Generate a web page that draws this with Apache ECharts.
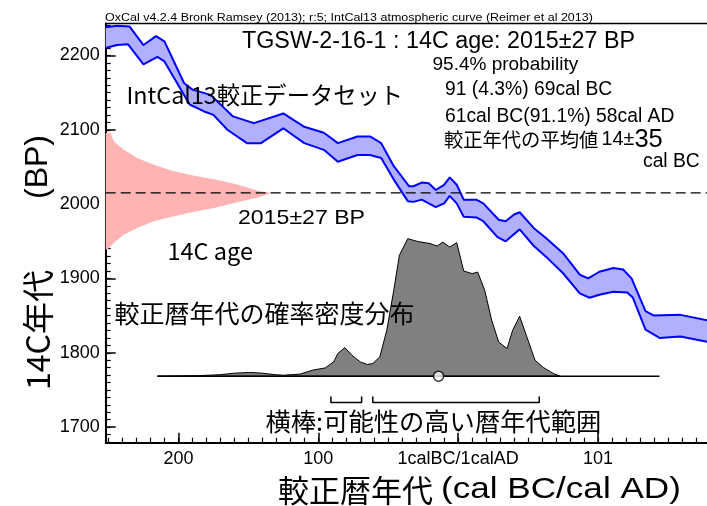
<!DOCTYPE html>
<html><head><meta charset="utf-8">
<script src="https://cdn.jsdelivr.net/npm/echarts@6/dist/echarts.min.js"></script>
<style>html,body{margin:0;padding:0;background:#fff}#c{width:707px;height:506px}</style>
</head><body><div id="c"></div>
<script>
// ---- data (years: negative = BC, 0 = 1calBC/1calAD) ----
const upperYears = [-252,-244,-235,-225,-216,-210,-196,-190,-177,-161,-146,-125,-110,-96,-86,-72,-63,-55,-46,-35,-32,-26,-21,-16,-10,-6,-1,4,13,18,29,34,40,44,54,63,75,87,93,101,111,118,124,134,140,159,180];
const upperBP    = [2238,2240,2239,2214,2226,2219,2163,2154,2147,2118,2109,2122,2104,2096,2082,2091,2091,2082,2051,2024,2024,2029,2028,2019,2026,2036,2026,2006,2006,2001,1979,1977,1986,1989,1968,1954,1934,1905,1900,1909,1914,1912,1900,1856,1850,1851,1843];
const lowerYears = [-252,-244,-236,-225,-215,-210,-192,-182,-175,-165,-151,-141,-125,-110,-96,-86,-72,-63,-55,-46,-36,-32,-26,-16,-10,-6,-1,4,13,18,28,34,44,54,63,75,87,94,101,111,121,125,134,144,159,180];
const lowerBP    = [2210,2214,2215,2188,2198,2192,2134,2125,2120,2100,2082,2082,2102,2082,2073,2057,2066,2066,2062,2033,2004,2003,2006,1996,2001,2011,2001,1983,1982,1977,1956,1950,1966,1944,1929,1907,1880,1874,1878,1882,1881,1874,1831,1820,1822,1814];

const measuredAge = 2015;
const pinkBP   = [2096,2084,2073,2062,2053,2045,2039,2033,2026,2018,2015,2009,2003,1995,1989,1983,1977,1968,1959,1948,1939];
const pinkProb = [0.03,0.05,0.11,0.19,0.29,0.40,0.52,0.66,0.80,0.92,1.00,0.92,0.80,0.66,0.52,0.40,0.29,0.19,0.11,0.05,0.01];

const distYears = [-215,-185,-170,-160,-149,-140,-131,-125,-113,-104,-95,-89,-86,-81,-76,-70,-65,-61,-56,-51,-46,-42,-36,-29,-20,-15,-11,-6,-1,4,10,14,19,24,29,35,39,44,50,55,61,68,73];
const distProb  = [0,0.004,0.011,0.022,0.027,0.022,0.011,0.007,0.015,0.044,0.060,0.104,0.165,0.208,0.153,0.104,0.085,0.092,0.140,0.334,0.625,0.879,1,0.980,0.964,0.946,0.975,0.939,0.971,0.765,0.746,0.757,0.625,0.407,0.249,0.201,0.334,0.436,0.261,0.116,0.063,0.020,0];
const distLineStart = -215, distLineEnd = 144;
const meanYear = -14;

const rangeStarts = [-91,-61];
const rangeEnds   = [-69,58];

const xTickValues = [-200,-100,0,100];
const xTickLabels = ['200','100','1calBC/1calAD','101'];
const yTickValues = [1700,1800,1900,2000,2100,2200];
const yTickLabels = ['1700','1800','1900','2000','2100','2200'];

// ---- layout constants ----
const X_MIN = -252, X_MAX = 179.4, Y_MIN = 1679, Y_MAX = 2243;
const GRID = {left: 105.7, top: 23.5, right: -2, bottom: 63.3};
const GRID_W = 707 - GRID.left - GRID.right, GRID_H = 506 - GRID.top - GRID.bottom;
const PINK_SCALE = 118.5;
const DIST_BASE = 1768.5;
const DIST_SCALE = 185;
const BR_TOP = 1741, BR_BOT = 1733;

const minorX = []; for (let v = -250; v <= 170; v += 10) minorX.push(v);
const minorY = []; for (let v = 1680; v <= 2240; v += 10) minorY.push(v);

const LAT = '"Liberation Sans", Arial, sans-serif';
const CJK = '"Noto Sans CJK JP", sans-serif';

const chart = echarts.init(document.getElementById('c'), null, {renderer: 'canvas'});

function polySeries(buildPts, style) {
  return {
    type: 'custom', coordinateSystem: 'cartesian2d', xAxisIndex: 0, yAxisIndex: 0,
    clip: true, silent: true, data: [[0, 2000]],
    renderItem: function (params, api) {
      const pts = buildPts().map(p => api.coord(p));
      return {type: 'polygon', shape: {points: pts}, style: style};
    }
  };
}

const series = [];
series.push(polySeries(function () {
  const pts = [[X_MIN, pinkBP[0]]];
  pinkBP.forEach((b, i) => pts.push([X_MIN + pinkProb[i] * PINK_SCALE, b]));
  pts.push([X_MIN, pinkBP[pinkBP.length - 1]]);
  return pts;
}, {fill: '#ffb3b3'}));
series.push(polySeries(function () {
  const pts = upperYears.map((y, i) => [y, upperBP[i]]);
  for (let i = lowerYears.length - 1; i >= 0; i--) pts.push([lowerYears[i], lowerBP[i]]);
  return pts;
}, {fill: '#b0b0ff'}));
series.push({type: 'line', data: upperYears.map((y, i) => [y, upperBP[i]]), showSymbol: false, silent: true,
  lineStyle: {color: '#0000ff', width: 2}});
series.push({type: 'line', data: lowerYears.map((y, i) => [y, lowerBP[i]]), showSymbol: false, silent: true,
  lineStyle: {color: '#0000ff', width: 2}});
series.push({type: 'line', data: [[X_MIN, measuredAge], [X_MAX, measuredAge]], showSymbol: false, silent: true,
  lineStyle: {color: '#000', width: 1.3, type: [10, 5]}});
series.push(polySeries(function () {
  return distYears.map((y, i) => [y, DIST_BASE + distProb[i] * DIST_SCALE]);
}, {fill: '#808080', stroke: '#000', lineWidth: 1}));
series.push({type: 'line', data: [[distLineStart, DIST_BASE], [distLineEnd, DIST_BASE]], showSymbol: false, silent: true,
  lineStyle: {color: '#000', width: 1.5}});
rangeStarts.forEach((s, i) => {
  const e = rangeEnds[i];
  series.push({type: 'line', data: [[s, BR_TOP], [s, BR_BOT], [e, BR_BOT], [e, BR_TOP]], showSymbol: false, silent: true,
    lineStyle: {color: '#000', width: 1.5}});
});
series.push({type: 'scatter', data: [[meanYear, DIST_BASE]], symbol: 'circle', symbolSize: 10, silent: true, z: 5,
  itemStyle: {color: '#fff', borderColor: '#000', borderWidth: 1.5}});

function txt(x, y, text, size, fam, extra) {
  return Object.assign({type: 'text', x: x, y: y, z: 100, silent: true,
    style: {text: text, fill: '#000', fontSize: size, fontFamily: fam, align: 'left', textAlign: 'left',
      verticalAlign: 'middle', textVerticalAlign: 'middle'}}, extra || {});
}

const graphic = [
  txt(105, 17.5, 'OxCal v4.2.4 Bronk Ramsey (2013); r:5; IntCal13 atmospheric curve (Reimer et al 2013)', 11, LAT, {scaleX: 1.135}),
  txt(242, 41.5, 'TGSW-2-16-1 : 14C age: 2015±27 BP', 23.3, LAT),
  txt(432.5, 65, '95.4% probability', 19, LAT),
  txt(445, 90, '91 (4.3%) 69cal BC', 19.3, LAT),
  txt(445, 116.5, '61cal BC(91.1%) 58cal AD', 19.3, LAT),
  {type: 'text', x: 444, y: 140, z: 100, silent: true, style: {
    text: '{a|較正年代の平均値} {b|14±}{c|35}', fill: '#000', align: 'left', verticalAlign: 'middle',
    rich: {a: {fontFamily: CJK, fontSize: 19.3, fill: '#000'}, b: {fontFamily: LAT, fontSize: 19.8, fill: '#000'},
           c: {fontFamily: LAT, fontSize: 25.5, fill: '#000'}}}},
  txt(643, 161.5, 'cal BC', 19.3, LAT),
  txt(126.5, 95, 'IntCal13較正データセット', 23.3, CJK),
  txt(238, 218.5, '2015±27 BP', 21, LAT, {scaleX: 1.1}),
  txt(167.5, 251, '14C age', 23.5, CJK),
  txt(114.5, 313, '較正暦年代の確率密度分布', 25, CJK),
  txt(265.5, 421.5, '横棒:可能性の高い暦年代範囲', 25.3, CJK),
  txt(278, 490, '較正暦年代', 31, CJK),
  txt(441, 490, '(cal BC/cal AD)', 30, LAT, {scaleX: 1.17}),
  {type: 'text', x: 38, y: 330, z: 100, rotation: Math.PI / 2, silent: true,
    style: {text: '14C年代', fill: '#000', fontSize: 32, fontFamily: CJK, align: 'center', verticalAlign: 'middle'}},
  {type: 'text', x: 38, y: 167, z: 100, rotation: Math.PI / 2, silent: true,
    style: {text: '(BP)', fill: '#000', fontSize: 32, fontFamily: LAT, align: 'center', verticalAlign: 'middle'}}
];

const option = {
  animation: false,
  backgroundColor: '#fff',
  grid: {left: GRID.left, top: GRID.top, right: GRID.right, bottom: GRID.bottom, containLabel: false, outerBoundsMode: 'none',
    show: true, borderColor: '#000', borderWidth: 1.5, backgroundColor: 'transparent'},
  xAxis: [
    {type: 'value', min: X_MIN, max: X_MAX, position: 'bottom',
      axisLine: {show: true, onZero: false, lineStyle: {color: '#000', width: 2}},
      axisTick: {show: true, inside: true, length: 10, customValues: xTickValues, lineStyle: {color: '#000', width: 1.5}},
      axisLabel: {show: true, customValues: xTickValues, margin: 7, color: '#000', fontSize: 18, fontFamily: LAT,
        formatter: function (v) { const i = xTickValues.indexOf(v); return i >= 0 ? xTickLabels[i] : ''; }},
      splitLine: {show: false}},
    // minor ticks: a top axis shifted down onto the bottom edge
    {type: 'value', min: X_MIN, max: X_MAX, position: 'top', offset: -GRID_H,
      axisLine: {show: false, onZero: false}, axisLabel: {show: false}, splitLine: {show: false},
      axisTick: {show: true, inside: false, length: 5, customValues: minorX, lineStyle: {color: '#000', width: 1.2}}}
  ],
  yAxis: [
    {type: 'value', min: Y_MIN, max: Y_MAX, position: 'left',
      axisLine: {show: true, onZero: false, lineStyle: {color: '#000', width: 2}},
      axisTick: {show: true, inside: true, length: 10, customValues: yTickValues, lineStyle: {color: '#000', width: 1.5}},
      axisLabel: {show: true, customValues: yTickValues, margin: 6, color: '#000', fontSize: 18, fontFamily: LAT,
        formatter: function (v) { const i = yTickValues.indexOf(v); return i >= 0 ? yTickLabels[i] : ''; }},
      splitLine: {show: false}},
    // minor ticks: a right axis shifted onto the left edge
    {type: 'value', min: Y_MIN, max: Y_MAX, position: 'right', offset: -GRID_W,
      axisLine: {show: false, onZero: false}, axisLabel: {show: false}, splitLine: {show: false},
      axisTick: {show: true, inside: false, length: 5, customValues: minorY, lineStyle: {color: '#000', width: 1.2}}}
  ],
  series: series,
  graphic: graphic
};
chart.setOption(option);
</script>
</body></html>
